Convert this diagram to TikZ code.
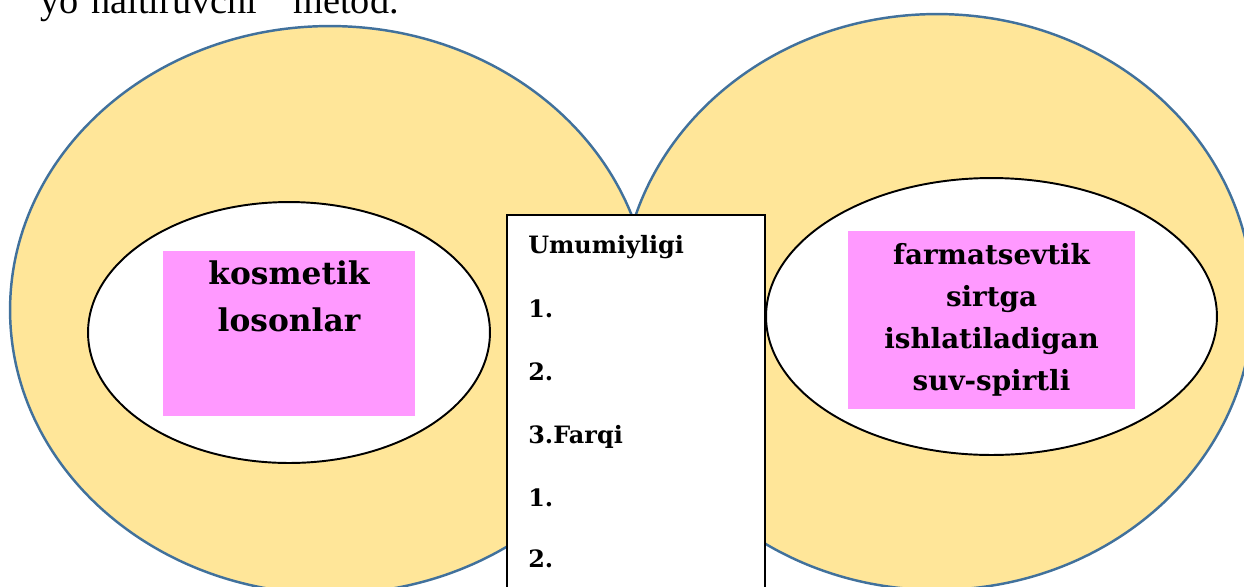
\documentclass[tikz,border=0pt]{standalone}
\usepackage{fontspec}
\setmainfont{DejaVu Serif}
\newfontfamily\timesfont{Liberation Serif}
\usetikzlibrary{positioning,shapes.geometric}
\definecolor{ringfill}{HTML}{FFE699}
\definecolor{ringline}{HTML}{41719C}
\definecolor{tagpink}{HTML}{FF99FF}
\tikzset{
  ring/.style={ellipse, draw=ringline, line width=1.4pt, fill=ringfill, inner sep=0pt},
  core/.style={ellipse, draw=black, line width=1.1pt, fill=white, inner sep=0pt},
  tag/.style={rectangle, fill=tagpink, inner sep=0pt},
  rowtext/.style={anchor=base west, inner sep=0pt, font=\bfseries\fontsize{13.6}{16}\selectfont}
}

\begin{document}
\begin{tikzpicture}[x=0.02cm, y=-0.02cm]
        \clip (0,0) rectangle (1244,586);
        % Caption cut at the top
        \node (caption) at (40,13) [anchor=base west, inner sep=0pt, font=\timesfont\fontsize{21.8}{26}\selectfont] {yo‘naltiruvchi”\ \ metod.};
        % Outer rings
        \node (ringL) at (330,310) [ring, minimum width=12.8cm, minimum height=11.36cm] {};
        \node (ringR) at (937,302) [ring, minimum width=12.64cm, minimum height=11.52cm] {};
        % Inner ellipses
        \node (coreL) at (289,332.5) [core, minimum width=8.04cm, minimum height=5.22cm] {};
        \node (coreR) at (991.5,316.5) [core, minimum width=9.02cm, minimum height=5.54cm] {};
        % Pink labels
        \node (tagL) at (289,333.5) [tag, minimum width=5.04cm, minimum height=3.3cm] {};
        \node (tagR) at (991.5,320) [tag, minimum width=5.74cm, minimum height=3.56cm] {};
        \node (kosText) [anchor=north, yshift=-5.5pt, inner sep=0pt, align=center, font=\bfseries\fontsize{17.8}{26.6}\selectfont] at (tagL.north) {kosmetik\\losonlar};
        \node (farmText) at (tagR.center) [inner sep=0pt, align=center, font=\bfseries\fontsize{15.8}{23.8}\selectfont] {farmatsevtik\\sirtga\\ishlatiladigan\\suv-spirtli};
        % Middle box
        \node (midBox) at (636,425) [rectangle, draw=black, line width=1.1pt, fill=white, minimum width=5.16cm, minimum height=8.4cm] {};
        \node (row1) at (528,253) [rowtext] {Umumiyligi};
        \node (row2) at (528,317) [rowtext] {1.};
        \node (row3) at (528,380) [rowtext] {2.};
        \node (row4) at (528,443) [rowtext] {3.Farqi};
        \node (row5) at (528,506) [rowtext] {1.};
        \node (row6) at (528,567) [rowtext] {2.};
\end{tikzpicture}
\end{document}
